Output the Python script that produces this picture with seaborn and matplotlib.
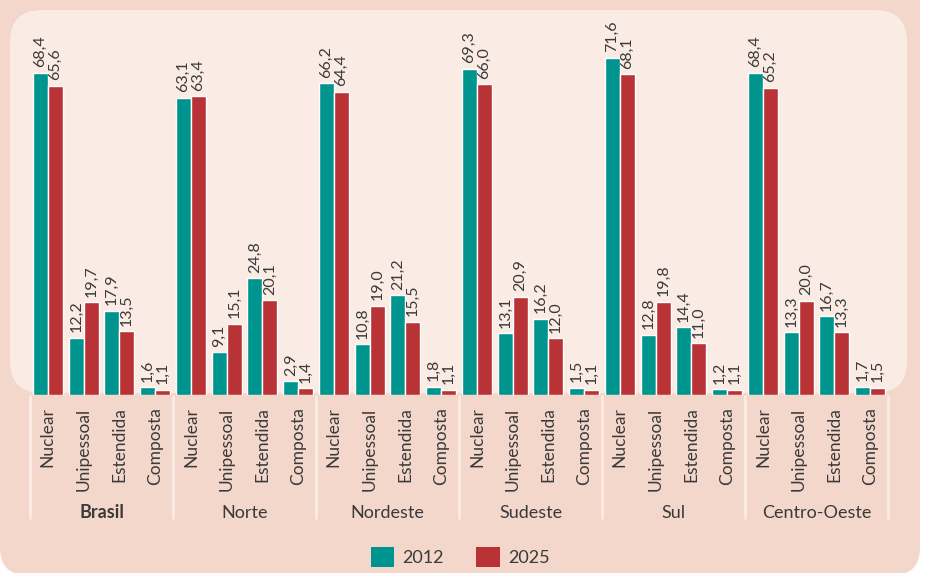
import pandas as pd
import seaborn as sns
import matplotlib.pyplot as plt
from matplotlib.patches import FancyBboxPatch, Patch
from matplotlib.lines import Line2D
from matplotlib import transforms

regions = ['Brasil', 'Norte', 'Nordeste', 'Sudeste', 'Sul', 'Centro-Oeste']
types = ['Nuclear', 'Unipessoal', 'Estendida', 'Composta']
years = ['2012', '2025']

# values per region, in order of types
v2012 = {
    'Brasil': [68.4, 12.2, 17.9, 1.6],
    'Norte': [63.1, 9.1, 24.8, 2.9],
    'Nordeste': [66.2, 10.8, 21.2, 1.8],
    'Sudeste': [69.3, 13.1, 16.2, 1.5],
    'Sul': [71.6, 12.8, 14.4, 1.2],
    'Centro-Oeste': [68.4, 13.3, 16.7, 1.7],
}
v2025 = {
    'Brasil': [65.6, 19.7, 13.5, 1.1],
    'Norte': [63.4, 15.1, 20.1, 1.4],
    'Nordeste': [64.4, 19.0, 15.5, 1.1],
    'Sudeste': [66.0, 20.9, 12.0, 1.1],
    'Sul': [68.1, 19.8, 11.0, 1.1],
    'Centro-Oeste': [65.2, 20.0, 13.3, 1.5],
}

teal = '#00948f'
red = '#b93236'
outer_bg = '#f3d7ca'
inner_bg = '#faece4'
text_col = '#3a3a3a'

rows = []
for r in regions:
    for i, t in enumerate(types):
        rows.append({'slot': r + '|' + t, 'ano': '2012', 'valor': v2012[r][i]})
        rows.append({'slot': r + '|' + t, 'ano': '2025', 'valor': v2025[r][i]})
df = pd.DataFrame(rows)
slots = [r + '|' + t for r in regions for t in types]

sns.set_style('white')
plt.rcParams['font.family'] = ['Lato', 'DejaVu Sans']

W, H = 925, 573
fig = plt.figure(figsize=(W / 100, H / 100), dpi=100)
fig.patch.set_facecolor('white')

# background panels in pixel coordinates
bg = fig.add_axes([0, 0, 1, 1], zorder=0)
bg.set_xlim(0, W)
bg.set_ylim(H, 0)
bg.axis('off')
bg.add_patch(FancyBboxPatch((0, -60), 920, 635, boxstyle='round,pad=0,rounding_size=27',
                            fc=outer_bg, ec='none'))
bg.add_patch(FancyBboxPatch((10, 10), 897, 383, boxstyle='round,pad=0,rounding_size=32',
                            fc=inner_bg, ec='none'))

base_y = 395
top_y = 10
ax = fig.add_axes([30 / W, 1 - base_y / H, 858 / W, (base_y - top_y) / H], zorder=1)
ax.set_facecolor('none')

sns.barplot(data=df, x='slot', y='valor', hue='ano', order=slots, hue_order=years,
            palette=[teal, red], width=0.84, saturation=1, legend=False, ax=ax)

for cont in ax.containers:
    labels = [f'{b.get_height():.1f}'.replace('.', ',') for b in cont]
    ax.bar_label(cont, labels=labels, rotation=90, padding=4, fontsize=11.5, color=text_col)

ax.set_xlim(-0.5, len(slots) - 0.5)
ax.set_ylim(0, (base_y - top_y) / 4.71)
ax.set_xlabel('')
ax.set_ylabel('')
ax.set_yticks([])
ax.set_xticks(range(len(slots)))
ax.set_xticklabels([s.split('|')[1] for s in slots], rotation=90, va='top',
                   fontsize=12.5, color=text_col)
ax.tick_params(axis='x', length=0, pad=9)
for sp in ax.spines.values():
    sp.set_visible(False)

# group labels and separators
tr = transforms.blended_transform_factory(ax.transData, fig.transFigure)
for g, r in enumerate(regions):
    ax.text(g * 4 + 1.5, 1 - 513 / H, r, transform=tr, ha='center', va='center',
            fontsize=13, color=text_col, fontweight='bold' if r == 'Brasil' else 'normal')
for g in range(len(regions) + 1):
    fig.add_artist(Line2D([g * 4 - 0.5, g * 4 - 0.5], [1 - 396 / H, 1 - 518 / H],
                          transform=tr, color=inner_bg, lw=2))

handles = [Patch(fc=teal, ec='none', label='2012'), Patch(fc=red, ec='none', label='2025')]
fig.legend(handles=handles, loc='center', bbox_to_anchor=(460 / W, 1 - 557 / H), ncol=2,
           frameon=False, fontsize=13, handlelength=1.3, handleheight=1.3,
           columnspacing=1.8, handletextpad=0.45, labelcolor=text_col)

fig.savefig('out.png', dpi=100)
